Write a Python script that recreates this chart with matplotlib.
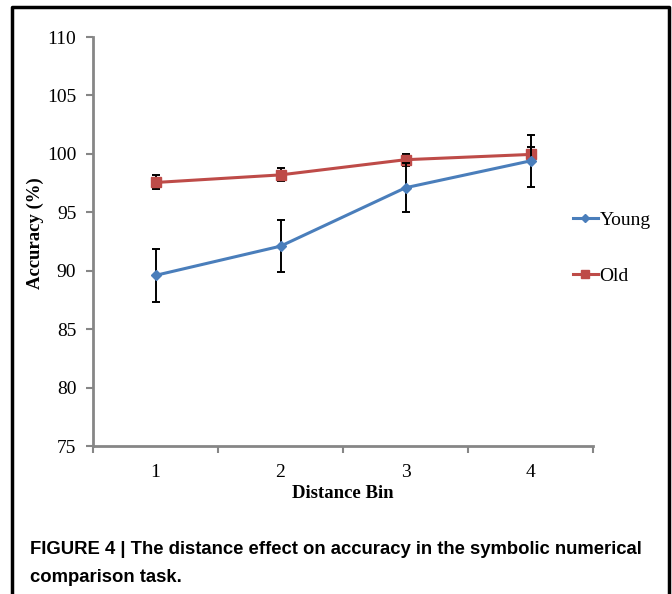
import matplotlib.pyplot as plt
from matplotlib.lines import Line2D

# data
bins = [1, 2, 3, 4]
young = [89.6, 92.1, 97.1, 99.4]
young_err = [2.3, 2.25, 2.1, 2.2]
old = [97.55, 98.2, 99.5, 99.95]
old_err = [0.6, 0.55, 0.5, 0.6]
y_ticks = [75, 80, 85, 90, 95, 100, 105, 110]

serif = 'Liberation Serif'
axis_gray = '#868686'
blue = '#4A7EBB'
red = '#BE4B48'

fig = plt.figure(figsize=(6.72, 5.94), dpi=100)
ax = fig.add_axes([93 / 672, 1 - 446 / 594, 500 / 672, 409 / 594])

ax.errorbar(bins, young, yerr=young_err, color=blue, lw=2.2, marker='D', ms=5,
            ecolor='black', elinewidth=1.4, capsize=3, capthick=1.4, zorder=3,
            label='Young')
ax.errorbar(bins, old, yerr=old_err, color=red, lw=2.2, marker='s', ms=7.5,
            ecolor='black', elinewidth=1.4, capsize=3, capthick=1.4, zorder=2,
            label='Old')

ax.set_xlim(0.5, 4.5)
ax.set_ylim(75, 110)
ax.set_yticks(y_ticks)
ax.set_yticklabels([str(t) for t in y_ticks], family=serif, fontsize=14)
ax.set_xticks([b - 0.5 for b in bins] + [bins[-1] + 0.5])
ax.set_xticklabels([])
ax.set_xticks(bins, minor=True)
ax.set_xticklabels([str(b) for b in bins], minor=True, family=serif, fontsize=14)
ax.tick_params(axis='x', which='minor', length=0, pad=13)
ax.tick_params(axis='both', which='major', length=5, width=1.5, color=axis_gray)
ax.tick_params(axis='y', pad=7)

for side in ['top', 'right']:
    ax.spines[side].set_visible(False)
for side in ['left', 'bottom']:
    ax.spines[side].set_color(axis_gray)
    ax.spines[side].set_linewidth(2)

ax.set_xlabel('Distance Bin', family=serif, fontweight='bold', fontsize=13.5)
ax.xaxis.set_label_coords(0.5, -(494 - 446) / 409, transform=ax.transAxes)
ax.xaxis.label.set_va('center')
ax.set_ylabel('Accuracy (%)', family=serif, fontweight='bold', fontsize=13.5)
ax.yaxis.set_label_coords(-(93 - 35) / 500, 0.52)
ax.yaxis.label.set_va('center')

# legend at the right, outside the plot area
handles = [Line2D([], [], color=blue, lw=2.2, marker='D', ms=4),
           Line2D([], [], color=red, lw=2.2, marker='s', ms=6)]
fig.legend(handles, ['Young', 'Old'], loc='center left',
           bbox_to_anchor=(555 / 672, 1 - 248 / 594), frameon=False,
           prop={'family': serif, 'size': 14}, handlelength=1.3,
           handletextpad=0.1, labelspacing=2.0)

# caption
cap_font = dict(family='Liberation Sans', fontweight='bold', fontsize=13.3, va='center')
fig.text(30 / 672, 1 - 549 / 594,
         'FIGURE 4 | The distance effect on accuracy in the symbolic numerical', **cap_font)
fig.text(30 / 672, 1 - 577 / 594, 'comparison task.', **cap_font)

# frame around the whole figure (open at the bottom)
fig.add_artist(Line2D([12 / 672, 12 / 672, 669 / 672, 669 / 672],
                      [0, 1 - 7 / 594, 1 - 7 / 594, 0],
                      transform=fig.transFigure, color='black', lw=2.5))

fig.savefig('out.png', dpi=100)
